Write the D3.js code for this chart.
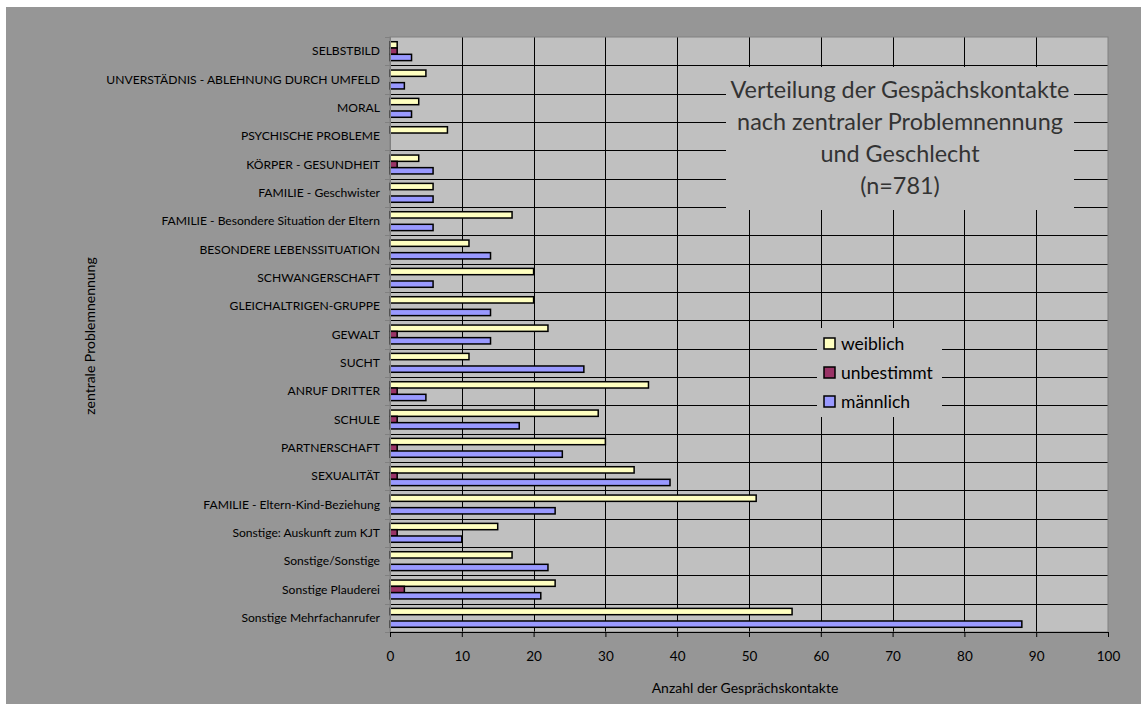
<!DOCTYPE html>
<html>
<head>
<meta charset="utf-8">
<script src="https://cdn.jsdelivr.net/npm/d3@7"></script>
<style>
  body { margin: 0; background: #fff; }
  text { font-family: Lato, "Open Sans", sans-serif; }
</style>
</head>
<body>
<div id="chart"></div>
<script>
const categories = [
  'SELBSTBILD', 'UNVERSTÄDNIS - ABLEHNUNG DURCH UMFELD', 'MORAL', 'PSYCHISCHE PROBLEME',
  'KÖRPER - GESUNDHEIT', 'FAMILIE - Geschwister', 'FAMILIE - Besondere Situation der Eltern',
  'BESONDERE LEBENSSITUATION', 'SCHWANGERSCHAFT', 'GLEICHALTRIGEN-GRUPPE', 'GEWALT', 'SUCHT',
  'ANRUF DRITTER', 'SCHULE', 'PARTNERSCHAFT', 'SEXUALITÄT', 'FAMILIE - Eltern-Kind-Beziehung',
  'Sonstige: Auskunft zum KJT', 'Sonstige/Sonstige', 'Sonstige Plauderei', 'Sonstige Mehrfachanrufer'
];
const weiblich    = [1, 5, 4, 8, 4, 6, 17, 11, 20, 20, 22, 11, 36, 29, 30, 34, 51, 15, 17, 23, 56];
const unbestimmt  = [1, 0, 0, 0, 1, 0, 0, 0, 0, 0, 1, 0, 1, 1, 1, 1, 0, 1, 0, 2, 0];
const maennlich   = [3, 2, 3, 0, 6, 6, 6, 14, 6, 14, 14, 27, 5, 18, 24, 39, 23, 10, 22, 21, 88];
const seriesNames = ['weiblich', 'unbestimmt', 'männlich'];
const seriesColors = ['#ffffc0', '#993366', '#9999ff'];
const xTicks = [0, 10, 20, 30, 40, 50, 60, 70, 80, 90, 100];
const titleLines = ['Verteilung der Gespächskontakte', 'nach zentraler Problemnennung', 'und Geschlecht', '(n=781)'];

const W = 1141, H = 704;
const plot = { left: 390, top: 37, right: 1108, bottom: 632 };

const svg = d3.select('#chart').append('svg')
  .attr('width', W).attr('height', H);

// chart background
svg.append('rect').attr('x', 6).attr('y', 7).attr('width', W - 6).attr('height', H - 7)
  .attr('fill', '#969696');

svg.append('rect')
  .attr('x', plot.left).attr('y', plot.top)
  .attr('width', plot.right - plot.left).attr('height', plot.bottom - plot.top)
  .attr('fill', '#c0c0c0');

const x = d3.scaleLinear().domain([0, 100]).range([plot.left, plot.right]);
const y = d3.scaleBand().domain(categories).range([plot.top, plot.bottom])
  .paddingInner(1 / 3).paddingOuter(1 / 6);
const ySub = d3.scaleBand().domain(seriesNames).range([0, y.bandwidth()]);
const step = y.step();

// gridlines
const grid = svg.append('g');
grid.selectAll('line.v').data(xTicks.slice(1, -1)).enter().append('line')
  .attr('x1', d => Math.round(x(d)) + 0.5).attr('x2', d => Math.round(x(d)) + 0.5)
  .attr('y1', plot.top).attr('y2', plot.bottom)
  .attr('stroke', '#000').attr('stroke-width', 1);
grid.selectAll('line.h').data(categories.slice(1)).enter().append('line')
  .attr('x1', plot.left).attr('x2', plot.right)
  .attr('y1', (d, i) => Math.round(plot.top + step * (i + 1)) + 0.5)
  .attr('y2', (d, i) => Math.round(plot.top + step * (i + 1)) + 0.5)
  .attr('stroke', '#000').attr('stroke-width', 1);

// bars
const seriesData = [weiblich, unbestimmt, maennlich];
seriesNames.forEach((name, si) => {
  svg.append('g').selectAll('rect')
    .data(categories.map((c, i) => ({ c, v: seriesData[si][i] })).filter(d => d.v > 0))
    .enter().append('rect')
    .attr('x', x(0))
    .attr('y', d => y(d.c) + ySub(name))
    .attr('width', d => x(d.v) - x(0))
    .attr('height', ySub.bandwidth())
    .attr('fill', seriesColors[si])
    .attr('stroke', '#000').attr('stroke-width', 1.5);
});

// plot border
svg.append('rect')
  .attr('x', plot.left).attr('y', plot.top)
  .attr('width', plot.right - plot.left).attr('height', plot.bottom - plot.top)
  .attr('fill', 'none').attr('stroke', '#808080').attr('stroke-width', 1);

// x axis
const xAxis = svg.append('g')
  .attr('transform', `translate(0,${plot.bottom})`)
  .call(d3.axisBottom(x).tickValues(xTicks).tickSize(5).tickPadding(14));
xAxis.select('.domain').attr('stroke', '#000');
xAxis.selectAll('.tick line').attr('stroke', '#000');
xAxis.selectAll('text').attr('font-size', 13.5).attr('fill', '#000')
  .attr('font-family', 'Lato, sans-serif');

// y axis ticks and labels
const yAxis = svg.append('g');
yAxis.append('line').attr('x1', plot.left + 0.5).attr('x2', plot.left + 0.5)
  .attr('y1', plot.top).attr('y2', plot.bottom).attr('stroke', '#808080');
yAxis.selectAll('line.t').data(d3.range(categories.length + 1)).enter().append('line')
  .attr('x1', plot.left - 5).attr('x2', plot.left)
  .attr('y1', i => Math.round(plot.top + step * i) + 0.5)
  .attr('y2', i => Math.round(plot.top + step * i) + 0.5)
  .attr('stroke', '#808080');
yAxis.selectAll('text').data(categories).enter().append('text')
  .attr('x', plot.left - 10)
  .attr('y', d => y(d) + y.bandwidth() / 2)
  .attr('dy', '0.35em')
  .attr('text-anchor', 'end')
  .attr('font-size', 12.1)
  .attr('fill', '#000')
  .text(d => d);

// axis titles
svg.append('text').attr('x', (plot.left + plot.right) / 2 - 4).attr('y', 693)
  .attr('text-anchor', 'middle').attr('font-size', 14).attr('fill', '#000')
  .text('Anzahl der Gesprächskontakte');
svg.append('text').attr('transform', 'translate(95,336) rotate(-90)')
  .attr('text-anchor', 'middle').attr('font-size', 14).attr('fill', '#000')
  .text('zentrale Problemnennung');

// title box
svg.append('rect').attr('x', 726).attr('y', 67).attr('width', 348).attr('height', 143)
  .attr('fill', '#c0c0c0');
svg.append('g').selectAll('text').data(titleLines).enter().append('text')
  .attr('x', 900).attr('y', (d, i) => 90 + i * 32).attr('dy', '0.35em')
  .attr('text-anchor', 'middle').attr('font-size', 23.4).attr('fill', '#333')
  .text(d => d);

// legend
const legend = svg.append('g');
legend.append('rect').attr('x', 817).attr('y', 328).attr('width', 125).attr('height', 89)
  .attr('fill', '#c0c0c0');
const li = legend.selectAll('g').data(seriesNames).enter().append('g')
  .attr('transform', (d, i) => `translate(824,${344 + i * 29})`);
li.append('rect').attr('x', 0).attr('y', -6).attr('width', 11).attr('height', 11)
  .attr('fill', (d, i) => seriesColors[i]).attr('stroke', '#000').attr('stroke-width', 1.5);
li.append('text').attr('x', 17).attr('y', 0).attr('dy', '0.35em')
  .attr('font-size', 17.5).attr('fill', '#000').text(d => d);
</script>
</body>
</html>
